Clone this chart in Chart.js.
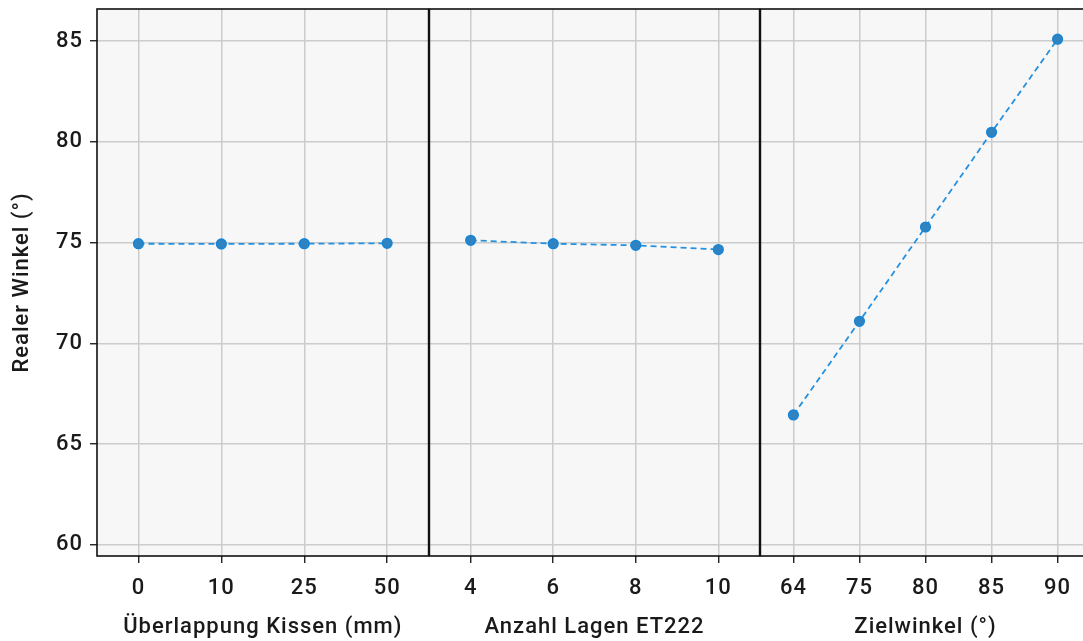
<!DOCTYPE html>
<html>
<head>
<meta charset="utf-8">
<script src="https://cdn.jsdelivr.net/npm/chart.js@4.4.1/dist/chart.umd.min.js"></script>
<style>
  html, body { margin: 0; padding: 0; background: #ffffff; overflow: hidden; }
  #wrap { position: relative; width: 1083px; height: 641px; overflow: hidden; }
  canvas { position: absolute; top: 0; }
</style>
</head>
<body>
<div id="wrap">
  <canvas id="p1" width="435" height="641" style="left:0px"></canvas>
  <canvas id="p2" width="343" height="641" style="left:423px"></canvas>
  <canvas id="p3" width="343" height="641" style="left:754px"></canvas>
</div>
<script>
// Daten
var kissenLabels = ['0', '10', '25', '50'];
var kissenWerte = [74.95, 74.94, 74.95, 74.97];

var lagenLabels = ['4', '6', '8', '10'];
var lagenWerte = [75.12, 74.95, 74.87, 74.66];

var zielLabels = ['64', '75', '80', '85', '90'];
var zielWerte = [66.45, 71.1, 75.78, 80.48, 85.1];

var yTicks = [60, 65, 70, 75, 80, 85];
var yTitel = 'Realer Winkel (°)';
var xTitel = ['Überlappung Kissen (mm)', 'Anzahl Lagen ET222', 'Zielwinkel (°)'];

var schrift = 'Roboto, "DejaVu Sans", sans-serif';
var groesse = 22;

// Hintergrund und Rahmen der einzelnen Felder
var rahmenPlugin = {
    id: 'rahmen',
    beforeDraw: function (chart) {
        var a = chart.chartArea;
        var ctx = chart.ctx;
        ctx.letterSpacing = '1px';
        ctx.save();
        ctx.fillStyle = '#f7f7f7';
        ctx.fillRect(a.left, a.top, a.right - a.left, a.bottom - a.top);
        ctx.restore();
    },
    afterDraw: function (chart) {
        var a = chart.chartArea;
        var ctx = chart.ctx;
        ctx.save();
        ctx.strokeStyle = '#111111';
        ctx.lineWidth = 1.6;
        ctx.strokeRect(a.left, a.top, a.right - a.left, a.bottom - a.top);
        ctx.restore();
    }
};

function panel(id, labels, werte, titel, mitY) {
    var ctx = document.getElementById(id).getContext('2d');
    return new Chart(ctx, {
        type: 'line',
        data: {
            labels: labels,
            datasets: [{
                data: werte,
                borderColor: '#2591e0',
                borderWidth: 1.8,
                borderDash: [6, 4],
                backgroundColor: '#2f83c0',
                pointBorderColor: '#1685d6',
                pointBorderWidth: 1.6,
                pointRadius: 4.8,
                pointHoverRadius: 4.8,
                tension: 0,
                fill: false
            }]
        },
        options: {
            responsive: false,
            animation: false,
            layout: { padding: { left: 0, right: 0, top: 9, bottom: 0 } },
            plugins: { legend: { display: false }, tooltip: { enabled: false } },
            scales: {
                x: {
                    type: 'category',
                    offset: true,
                    grid: { offset: false, color: '#cccccc', lineWidth: 1.5, tickColor: '#111111', tickLength: 7, tickWidth: 1.3 },
                    border: { display: false },
                    ticks: { color: '#1a1a1a', font: { family: schrift, size: groesse, weight: 500 }, padding: 12, maxRotation: 0 },
                    title: { display: true, text: titel, color: '#1a1a1a', font: { family: schrift, size: groesse, weight: 500 }, padding: { top: 0, bottom: 0 } },
                    afterFit: function (s) {
                        s.height = 85;
                        s.paddingLeft = 0;
                        s.paddingRight = 0;
                    }
                },
                y: {
                    min: 59.45,
                    max: 86.6,
                    grid: { color: '#cccccc', lineWidth: 1.5, tickColor: '#111111', tickLength: 7, tickWidth: 1.3, drawTicks: mitY },
                    border: { display: false },
                    afterBuildTicks: function (s) {
                        s.ticks = yTicks.map(function (v) { return { value: v }; });
                    },
                    ticks: { display: mitY, color: '#1a1a1a', font: { family: schrift, size: groesse, weight: 500 }, padding: 7 },
                    title: { display: mitY, text: yTitel, color: '#1a1a1a', font: { family: schrift, size: groesse, weight: 500 }, padding: { top: 9, bottom: 0 } },
                    afterFit: function (s) {
                        s.width = mitY ? 97 : 0;
                        s.paddingTop = 0;
                        s.paddingBottom = 0;
                    }
                }
            }
        },
        plugins: [rahmenPlugin]
    });
}

panel('p1', kissenLabels, kissenWerte, xTitel[0], true);
panel('p2', lagenLabels, lagenWerte, xTitel[1], false);
panel('p3', zielLabels, zielWerte, xTitel[2], false);
</script>
</body>
</html>
